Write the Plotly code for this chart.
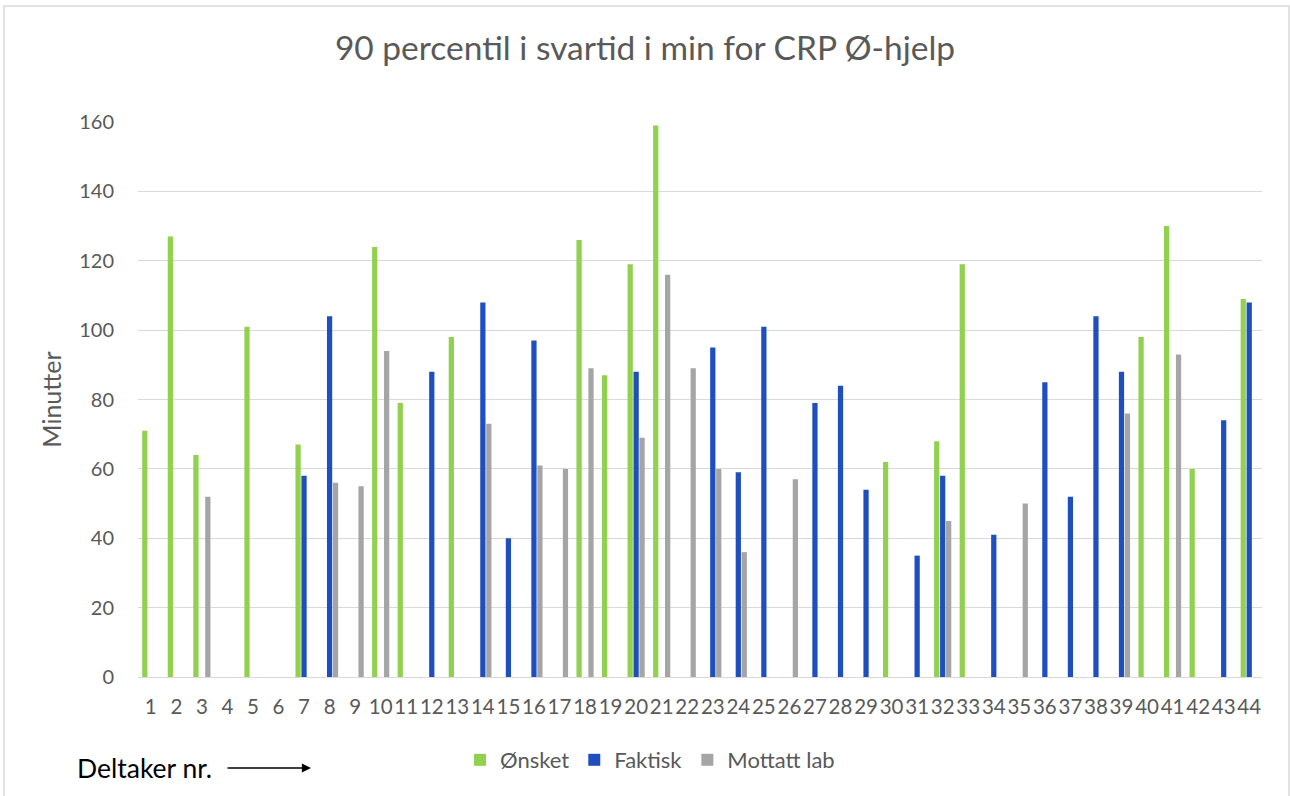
import plotly.graph_objects as go

categories = [str(i) for i in range(1, 45)]

onsket = [71, 127, 64, None, 101, None, 67, None, None, 124, 79, None, 98, None, None, None, None, 126, 87, 119,
          159, None, None, None, None, None, None, None, None, 62, None, 68, 119, None, None, None, None, None, None, 98,
          130, 60, None, 109]
faktisk = [None, None, None, None, None, None, 58, 104, None, None, None, 88, None, 108, 40, 97, None, None, None, 88,
           None, None, 95, 59, 101, None, 79, 84, 54, None, 35, 58, None, 41, None, 85, 52, 104, 88, None,
           None, None, 74, 108]
mottatt = [None, None, 52, None, None, None, None, 56, 55, 94, None, None, None, 73, None, 61, 60, 89, None, 69,
           116, 89, 60, 36, None, 57, None, None, None, None, None, 45, None, None, 50, None, None, None, 76, None,
           93, None, None, None]

series_names = ["Ønsket", "Faktisk", "Mottatt lab"]
series_colors = ["#92D050", "#1F4FBF", "#A5A5A5"]

W, H = 1290, 796
ML, MR, MT, MB = 138, 28, 122, 119
PW, PH = W - ML - MR, H - MT - MB

FONT = "Lato, 'Open Sans', sans-serif"
GREY = "#595959"


def py(pix):
    """page pixel y -> paper y"""
    return (H - MB - pix) / PH


def px(pix):
    """page pixel x -> paper x"""
    return (pix - ML) / PW


fig = go.Figure()
for name, vals, col in zip(series_names, [onsket, faktisk, mottatt], series_colors):
    fig.add_trace(go.Bar(x=categories, y=vals, name=name, marker=dict(color=col, line=dict(width=0))))

fig.update_layout(
    width=W, height=H,
    margin=dict(l=ML, r=MR, t=MT, b=MB),
    paper_bgcolor="white", plot_bgcolor="white",
    barmode="group", bargap=0.3, bargroupgap=0.12,
    title=dict(text="90 percentil i svartid i min for CRP Ø-hjelp", x=0.5, xanchor="center",
               y=1 - 48 / H, yanchor="middle", font=dict(family=FONT, size=33.5, color=GREY)),
    font=dict(family=FONT, color=GREY, size=19),
    legend=dict(orientation="h", x=px(650), xanchor="center", y=py(760), yanchor="middle",
                font=dict(size=22, color=GREY), itemwidth=30, traceorder="normal"),
    xaxis=dict(type="category", showgrid=False, showline=True, linecolor="#D9D9D9", linewidth=1,
               ticks="", tickangle=0, ticklabelstandoff=11, tickfont=dict(size=20.5, color=GREY)),
    yaxis=dict(range=[0, 160], dtick=20, showgrid=True, gridcolor="#D9D9D9", gridwidth=1,
               zeroline=False, showline=False, ticks="", ticklabelstandoff=23,
               tickfont=dict(size=20, color=GREY),
               title=dict(text="Minutter", font=dict(size=25, color=GREY), standoff=10)),
    shapes=[
        dict(type="rect", xref="paper", yref="paper",
             x0=px(4), x1=px(1289), y0=py(H + 5), y1=py(6),
             line=dict(color="#D9D9D9", width=1.5), fillcolor="rgba(0,0,0,0)", layer="below"),
    ],
    annotations=[
        dict(text="Deltaker nr.", xref="paper", yref="paper", x=px(75), xanchor="left",
             y=py(768), yanchor="middle", showarrow=False,
             font=dict(family=FONT, size=26.5, color="black")),
        dict(text="", xref="paper", yref="paper", axref="pixel", ayref="pixel",
             x=px(311), y=py(768), ax=-85, ay=0,
             showarrow=True, arrowhead=2, arrowsize=1.4, arrowwidth=1.3, arrowcolor="black"),
    ],
)

fig.write_html("out.html", config={"displayModeBar": False},
               post_script="document.body.style.margin='0';")
